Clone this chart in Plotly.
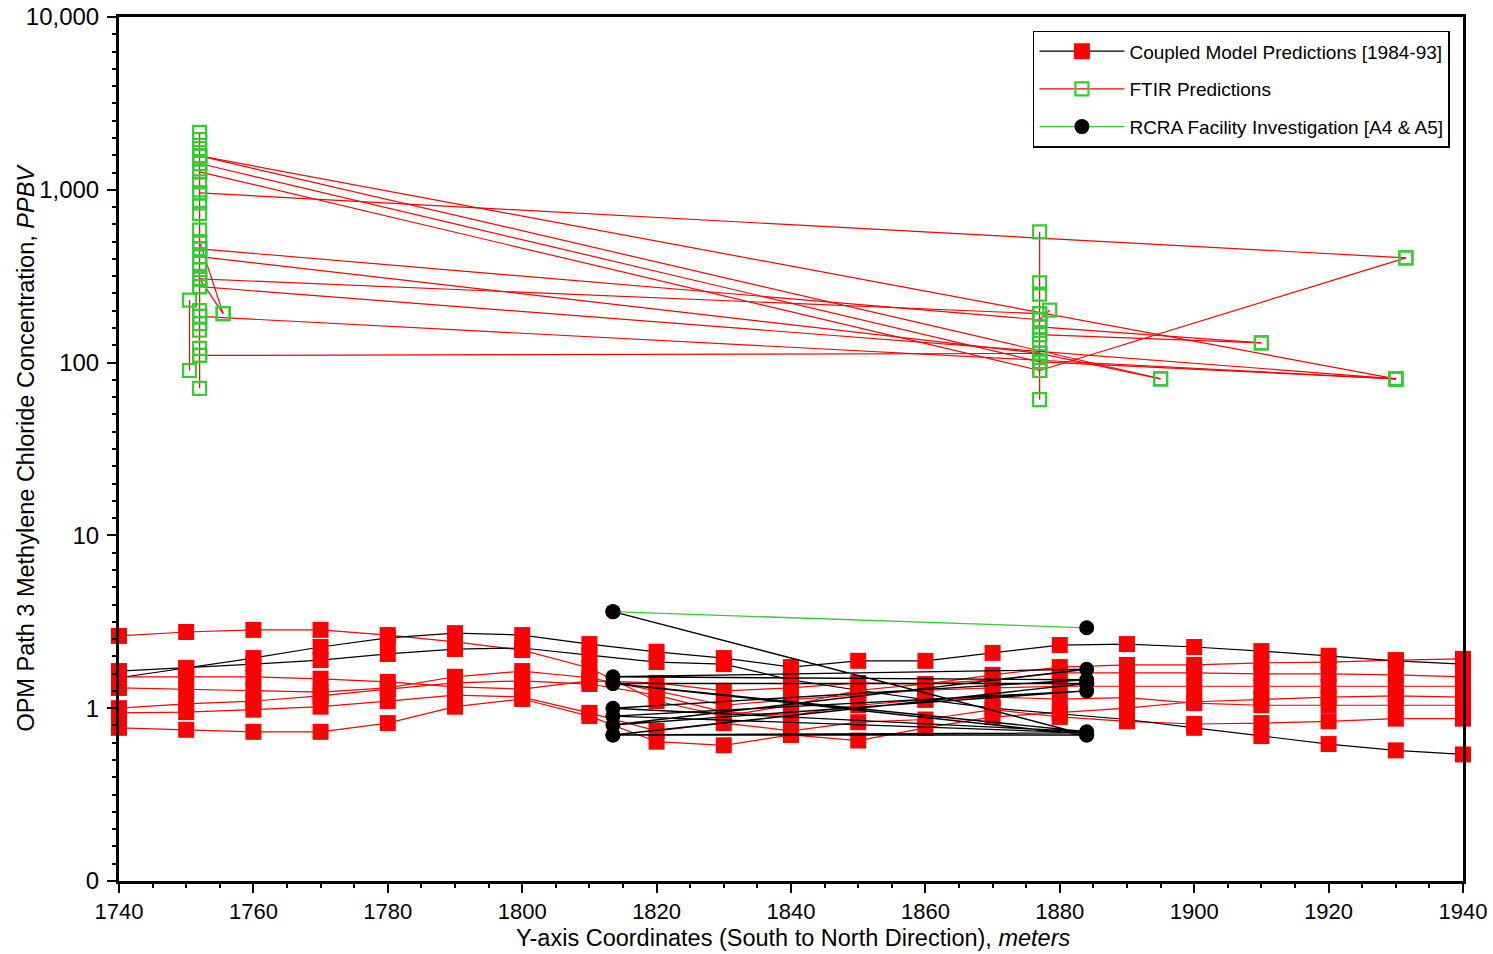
import plotly.graph_objects as go

# ---------------------------------------------------------------------------
# Coupled model predictions along OPM path 3 (ppbv), one list per run
# ---------------------------------------------------------------------------
y_coord = [1740, 1750, 1760, 1770, 1780, 1790, 1800, 1810, 1820, 1830, 1840,
           1850, 1860, 1870, 1880, 1890, 1900, 1910, 1920, 1930, 1940]

cm_run_1 = [1.50, 1.71, 1.95, 2.26, 2.55, 2.72, 2.65, 2.35, 2.12, 1.95, 1.73,
            1.88, 1.88, 2.09, 2.32, 2.35, 2.26, 2.14, 2.01, 1.88, 1.80]
cm_run_2 = [1.64, 1.71, 1.80, 1.90, 2.06, 2.20, 2.23, 2.03, 1.85, 1.80, 1.46,
            1.27, 1.12, 1.00, 0.93, 0.86, 0.77, 0.69, 0.62, 0.57, 0.54]
cm_run_3 = [2.62, 2.76, 2.84, 2.84, 2.65, 2.42, 2.17, 1.71, 1.10, 0.90, 1.04,
            1.27, 1.38, 1.56, 1.73, 1.78, 1.78, 1.83, 1.85, 1.90, 1.93]
cm_run_4 = [1.52, 1.52, 1.52, 1.48, 1.42, 1.33, 1.29, 1.44, 1.40, 1.26, 1.31,
            1.40, 1.38, 1.46, 1.60, 1.60, 1.60, 1.58, 1.58, 1.56, 1.52]
cm_run_5 = [1.31, 1.29, 1.26, 1.24, 1.31, 1.52, 1.64, 1.50, 1.26, 1.04, 1.12,
            1.19, 1.27, 1.31, 1.34, 1.34, 1.34, 1.34, 1.34, 1.34, 1.34]
cm_run_6 = [1.00, 1.06, 1.10, 1.18, 1.29, 1.40, 1.44, 1.38, 1.19, 0.95, 0.91,
            1.04, 1.12, 1.16, 1.13, 1.15, 1.07, 1.04, 1.04, 1.04, 1.04]
cm_run_7 = [0.94, 0.95, 0.98, 1.02, 1.10, 1.19, 1.16, 0.94, 0.74, 0.82, 0.74,
            0.83, 0.86, 0.98, 0.89, 0.84, 0.81, 0.82, 0.84, 0.87, 0.87]
cm_run_8 = [0.77, 0.75, 0.73, 0.73, 0.82, 1.02, 1.13, 0.90, 0.64, 0.61, 0.70,
            0.65, 0.77, 0.89, 0.94, 1.00, 1.09, 1.13, 1.16, 1.18, 1.16]

# ---------------------------------------------------------------------------
# FTIR predictions: two sampling columns plus cross-links between points
# ---------------------------------------------------------------------------
ftir_left_pos = 1752
ftir_left_ppbv = [2150, 1950, 1730, 1570, 1420, 1270, 1110, 960, 840, 730, 585,
                  500, 455, 410, 375, 345, 305, 275, 200, 185, 168, 154, 121,
                  110, 71]
ftir_side_pos = 1750.5
ftir_side_ppbv = [230, 90]
ftir_right_pos = 1877
ftir_right_ppbv = [571, 289, 249, 192, 177, 161, 145, 129, 113, 101, 90, 61]

# each link: (start position, start ppbv, end position, end ppbv)
ftir_link_x0 = [1752, 1755.5, 1752, 1752, 1752, 1752, 1752, 1877, 1752, 1752,
                1752, 1752, 1752, 1752, 1877, 1877, 1877, 1877, 1878.5]
ftir_link_y0 = [500, 192, 1570, 1570, 1420, 1270, 960, 90, 455, 410,
                305, 275, 185, 110, 113, 161, 145, 101, 201]
ftir_link_x1 = [1755.5, 1752, 1930, 1895, 1877, 1877, 1931.5, 1931.5, 1877, 1877,
                1877, 1930, 1930, 1877, 1895, 1910, 1910, 1930, 1877]
ftir_link_y1 = [192, 305, 80.6, 80.6, 101, 90, 404, 404, 177, 113,
                192, 80.6, 80.6, 113, 80.6, 130, 130, 80.6, 177]

# ---------------------------------------------------------------------------
# RCRA facility investigation (A4 & A5)
# ---------------------------------------------------------------------------
rcra_pair_pos = [1813.5, 1884]
rcra_pair_ppbv = [3.62, 2.92]
rcra_seq_pos = [1813.5, 1884, 1813.5, 1884, 1813.5, 1884, 1813.5, 1884, 1813.5,
                1884, 1813.5, 1884, 1813.5, 1884, 1813.5, 1884, 1813.5, 1884]
rcra_seq_ppbv = [3.62, 0.70, 0.70, 0.70, 1.39, 1.39, 1.39, 0.73, 1.00,
                 1.46, 1.52, 1.68, 0.80, 1.26, 0.90, 0.72, 0.70, 1.39]

RED = "#ff0000"
GREEN = "#33cc33"
FONT = "Liberation Sans, Arial, sans-serif"

fig = go.Figure()

# FTIR trace: columns drawn as vertical runs, links as separate segments
fx, fy = [], []
fx += [ftir_left_pos] * len(ftir_left_ppbv) + [None]
fy += ftir_left_ppbv + [None]
fx += [ftir_side_pos] * len(ftir_side_ppbv) + [None]
fy += ftir_side_ppbv + [None]
fx += [ftir_right_pos] * len(ftir_right_ppbv) + [None]
fy += ftir_right_ppbv + [None]
for x0, y0, x1, y1 in zip(ftir_link_x0, ftir_link_y0, ftir_link_x1, ftir_link_y1):
    fx += [x0, x1, None]
    fy += [y0, y1, None]

fig.add_trace(go.Scatter(
    x=fx, y=fy, mode="lines+markers", name="FTIR Predictions",
    legendgroup="ftir", legendrank=2, connectgaps=False, cliponaxis=False,
    line=dict(color=RED, width=1.2),
    marker=dict(symbol="square-open", size=13, color=GREEN, line=dict(width=2.2, color=GREEN)),
))

# Coupled model runs (red markers; two runs drawn with black lines)
runs = [cm_run_3, cm_run_4, cm_run_5, cm_run_6, cm_run_7, cm_run_8, cm_run_2, cm_run_1]
colors = [RED, RED, RED, RED, RED, RED, "black", "black"]
for i, (vals, col) in enumerate(zip(runs, colors)):
    last = i == len(runs) - 1
    fig.add_trace(go.Scatter(
        x=y_coord, y=vals, mode="lines+markers",
        name="Coupled Model Predictions [1984-93]",
        legendgroup="cm", legendrank=1, showlegend=last, cliponaxis=False,
        line=dict(color=col, width=1.2),
        marker=dict(symbol="square", size=16, color=RED),
    ))

# RCRA samples
fig.add_trace(go.Scatter(
    x=rcra_seq_pos, y=rcra_seq_ppbv, mode="lines+markers", showlegend=False,
    legendgroup="rcra", cliponaxis=False,
    line=dict(color="black", width=1.4),
    marker=dict(symbol="circle", size=15, color="black"),
))
fig.add_trace(go.Scatter(
    x=rcra_pair_pos, y=rcra_pair_ppbv, mode="lines+markers",
    name="RCRA Facility Investigation [A4 & A5]",
    legendgroup="rcra", legendrank=3, cliponaxis=False,
    line=dict(color=GREEN, width=1.3),
    marker=dict(symbol="circle", size=15, color="black"),
))

fig.update_layout(
    width=1493, height=954,
    margin=dict(l=119, r=30, t=17, b=73, autoexpand=False),
    plot_bgcolor="white", paper_bgcolor="white",
    font=dict(family=FONT, color="black"),
    legend=dict(
        x=0.680, y=0.984, xanchor="left", yanchor="top",
        bgcolor="white", bordercolor="black", borderwidth=1.5,
        font=dict(family=FONT, size=19, color="black"),
        itemwidth=85, tracegroupgap=10,
    ),
    annotations=[
        dict(text="OPM Path 3 Methylene Chloride Concentration, <i>PPBV</i>",
             xref="paper", yref="paper", x=-0.0699, y=0.5017, textangle=-90,
             xanchor="center", yanchor="middle", showarrow=False,
             font=dict(family=FONT, size=23.5, color="black")),
        dict(text="Y-axis Coordinates (South to North Direction), <i>meters</i>",
             xref="paper", yref="paper", x=0.5015, y=-0.066,
             xanchor="center", yanchor="middle", showarrow=False,
             font=dict(family=FONT, size=23.5, color="black")),
    ],
)

fig.update_xaxes(
    range=[1740, 1940], tick0=1740, dtick=20, automargin=False,
    ticks="outside", ticklen=9, tickwidth=2, tickcolor="black",
    showline=True, linecolor="black", linewidth=3, mirror=True,
    showgrid=False, zeroline=False,
    tickfont=dict(family=FONT, size=22, color="black"),
    minor=dict(tick0=1740, dtick=5, ticks="outside", ticklen=4, tickwidth=1.5,
               tickcolor="black", showgrid=False),
)
fig.update_yaxes(
    type="log", range=[-1, 4], automargin=False,
    tickmode="array",
    tickvals=[0.1, 1, 10, 100, 1000, 10000],
    ticktext=["0", "1", "10", "100", "1,000", "10,000"],
    ticks="outside", ticklen=9, tickwidth=2, tickcolor="black",
    showline=True, linecolor="black", linewidth=3, mirror=True,
    showgrid=False, zeroline=False, ticklabelstandoff=3,
    tickfont=dict(family=FONT, size=24, color="black"),
    minor=dict(tickmode="linear", tick0=0, dtick=0.1, ticks="outside", ticklen=4,
               tickwidth=1.5, tickcolor="black", showgrid=False),
)

fig.write_html("out.html")
